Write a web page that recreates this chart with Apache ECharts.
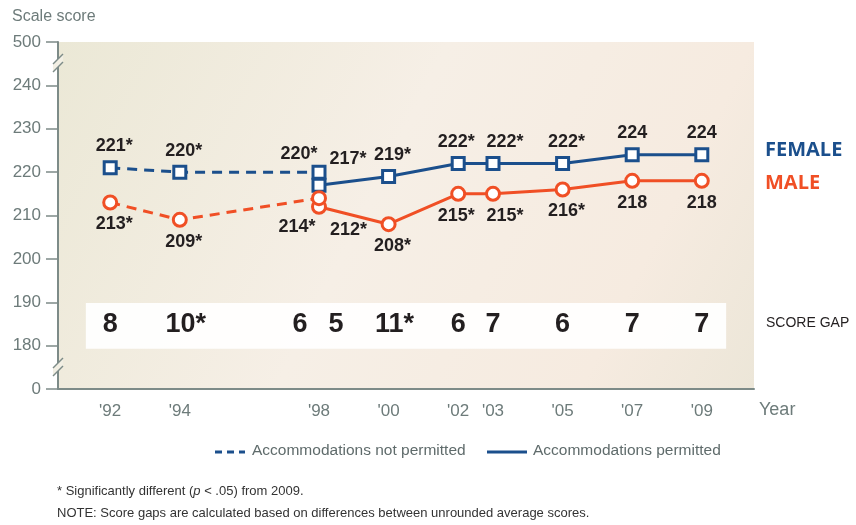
<!DOCTYPE html>
<html>
<head>
<meta charset="utf-8">
<script src="https://cdn.jsdelivr.net/npm/echarts@6/dist/echarts.min.js"></script>
<style>
html,body{margin:0;padding:0;background:#fff;}
#c{width:856px;height:525px;}
</style>
</head>
<body>
<div id="c"></div>
<script>
// ---- data ----
const femaleNotPermittedYears = [1992, 1994, 1998];
const femaleNotPermitted = [221, 220, 220];
const femaleNotPermittedSig = [true, true, true];
const femalePermittedYears = [1998, 2000, 2002, 2003, 2005, 2007, 2009];
const femalePermitted = [217, 219, 222, 222, 222, 224, 224];
const femalePermittedSig = [true, true, true, true, true, false, false];
const maleNotPermittedYears = [1992, 1994, 1998];
const maleNotPermitted = [213, 209, 214];
const maleNotPermittedSig = [true, true, true];
const malePermittedYears = [1998, 2000, 2002, 2003, 2005, 2007, 2009];
const malePermitted = [212, 208, 215, 215, 216, 218, 218];
const malePermittedSig = [true, true, true, true, true, false, false];
const gapYears = [1992, 1994, 1998, 1998, 2000, 2002, 2003, 2005, 2007, 2009];
const gapValues = ['8', '10*', '6', '5', '11*', '6', '7', '6', '7', '7'];
const gapAccommodations = [false, false, false, true, true, true, true, true, true, true];
const xTickYears = [1992, 1994, 1998, 2000, 2002, 2003, 2005, 2007, 2009];
const yTickLabels = {170: '0', 180: '180', 190: '190', 200: '200', 210: '210', 220: '220', 230: '230', 240: '240', 250: '500'};

const BLUE = '#1b4f8c';
const ORANGE = '#f04f25';
const TXT = '#231f20';
const AXIS = '#7d8b88';
const LBL = '#6d7b7a';
const SANS = '"Liberation Sans", Arial, sans-serif';

const chart = echarts.init(document.getElementById('c'), null, {renderer: 'canvas'});

function pts(years, vals, sig, pos, opts) {
  return years.map((y, i) => {
    const s = sig[i];
    const o = (opts && opts[i]) || {};
    let dx = s ? 4 : 0;
    if (y === 2002) dx = -2;
    if (y === 2003) dx = 12;
    return {
      value: [y, vals[i]],
      label: Object.assign({
        show: true,
        position: pos,
        distance: 5,
        formatter: vals[i] + (s ? '*' : ''),
        offset: [dx, 0]
      }, o)
    };
  });
}

const labelBase = {color: TXT, fontFamily: SANS, fontWeight: 'bold', fontSize: 18};

const series = [
  {
    name: 'Gap box', type: 'line', z: 1, data: [], silent: true,
    markArea: {
      silent: true,
      itemStyle: {color: '#ffffff', opacity: 0.93},
      data: [[{coord: [1991.3, 189.8]}, {coord: [2009.7, 179.3]}]]
    }
  },
  {
    name: 'Female permitted', type: 'line', z: 3,
    data: pts(femalePermittedYears, femalePermitted, femalePermittedSig, 'top', {0: {position: 'right', distance: 3, offset: [0, -26]}}),
    symbol: 'rect', symbolSize: 12,
    lineStyle: {color: BLUE, width: 3},
    itemStyle: {color: '#fff', borderColor: BLUE, borderWidth: 3},
    label: labelBase
  },
  {
    name: 'Male permitted', type: 'line', z: 3,
    data: pts(malePermittedYears, malePermitted, malePermittedSig, 'bottom', {0: {position: 'right', distance: 3, offset: [0, 23]}}),
    symbol: 'circle', symbolSize: 13,
    lineStyle: {color: ORANGE, width: 3},
    itemStyle: {color: '#fff', borderColor: ORANGE, borderWidth: 3},
    label: labelBase
  },
  {
    name: 'Female not permitted', type: 'line', z: 4,
    data: pts(femaleNotPermittedYears, femaleNotPermitted, femaleNotPermittedSig, 'top', {2: {position: 'top', distance: 2, offset: [-20, 0]}}),
    symbol: 'rect', symbolSize: 12,
    lineStyle: {color: BLUE, width: 3, type: [10, 7]},
    itemStyle: {color: '#fff', borderColor: BLUE, borderWidth: 3},
    label: labelBase
  },
  {
    name: 'Male not permitted', type: 'line', z: 4,
    data: pts(maleNotPermittedYears, maleNotPermitted, maleNotPermittedSig, 'bottom', {2: {position: 'bottom', distance: 5, offset: [-22, 7]}}),
    symbol: 'circle', symbolSize: 13,
    lineStyle: {color: ORANGE, width: 3, type: [10, 7]},
    itemStyle: {color: '#fff', borderColor: ORANGE, borderWidth: 3},
    label: labelBase
  },
  {
    name: 'Score gap', type: 'scatter', z: 5,
    symbolSize: 1,
    itemStyle: {color: 'rgba(0,0,0,0)', opacity: 1},
    data: gapYears.map((y, i) => {
      let dx = gapValues[i].indexOf('*') >= 0 ? 6 : 0;
      if (y === 1998) dx = gapAccommodations[i] ? 17 : -19;
      return {value: [y, 185], label: {offset: [dx, 1]}, name: gapValues[i]};
    }),
    label: {show: true, position: 'inside', formatter: p => p.name, color: TXT, opacity: 1, fontFamily: SANS, fontWeight: 'bold', fontSize: 27}
  }
];

const option = {
  animation: false,
  backgroundColor: '#ffffff',
  grid: {
    left: 58, right: 102, top: 42, bottom: 136,
    show: true, borderWidth: 0,
    backgroundColor: {
      type: 'linear', x: 0, y: 0, x2: 1, y2: 1,
      colorStops: [
        {offset: 0, color: '#ebe8d6'},
        {offset: 0.45, color: '#f6efe6'},
        {offset: 0.8, color: '#f6ebe0'},
        {offset: 1, color: '#ece6d8'}
      ]
    }
  },
  xAxis: {
    type: 'value', min: 1990.5, max: 2010.5,
    splitLine: {show: false},
    axisLine: {show: true, lineStyle: {color: AXIS, width: 2}},
    axisTick: {show: false},
    axisLabel: {
      customValues: xTickYears,
      formatter: v => "'" + String(v).slice(2),
      color: LBL, fontFamily: SANS, fontSize: 17, margin: 14
    }
  },
  yAxis: {
    type: 'value', min: 170, max: 250, interval: 10,
    splitLine: {show: false},
    axisLine: {show: true, lineStyle: {color: AXIS, width: 2}},
    axisTick: {show: true, inside: false, length: 12, lineStyle: {color: AXIS, width: 1.5}},
    axisLabel: {
      formatter: v => yTickLabels[v] !== undefined ? yTickLabels[v] : '',
      color: LBL, fontFamily: SANS, fontSize: 17, margin: 17
    }
  },
  series: series,
  graphic: [
    {type: 'text', left: 12, top: 9, style: {text: 'Scale score', fill: LBL, font: '16px ' + SANS}},
    {type: 'text', left: 759, top: 401, style: {text: 'Year', fill: LBL, font: '18px ' + SANS}},
    {type: 'text', left: 765, top: 140, style: {text: 'FEMALE', fill: BLUE, font: 'bold 20px "Open Sans",sans-serif'}},
    {type: 'text', left: 765, top: 173, style: {text: 'MALE', fill: ORANGE, font: 'bold 20px "Open Sans",sans-serif'}},
    {type: 'text', left: 766, top: 316, style: {text: 'SCORE GAP', fill: TXT, font: '14px ' + SANS}},
    // axis breaks
    {type: 'polygon', z: 100, shape: {points: [[53, 64], [63, 54], [63, 62], [53, 72]]}, style: {fill: '#f2efe4'}},
    {type: 'line', z: 101, shape: {x1: 53, y1: 64, x2: 63, y2: 54}, style: {stroke: AXIS, lineWidth: 1.5}},
    {type: 'line', z: 101, shape: {x1: 53, y1: 72, x2: 63, y2: 62}, style: {stroke: AXIS, lineWidth: 1.5}},
    {type: 'polygon', z: 100, shape: {points: [[53, 368], [63, 358], [63, 366], [53, 376]]}, style: {fill: '#f2efe4'}},
    {type: 'line', z: 101, shape: {x1: 53, y1: 368, x2: 63, y2: 358}, style: {stroke: AXIS, lineWidth: 1.5}},
    {type: 'line', z: 101, shape: {x1: 53, y1: 376, x2: 63, y2: 366}, style: {stroke: AXIS, lineWidth: 1.5}},
    // legend
    {type: 'line', shape: {x1: 215, y1: 452, x2: 245, y2: 452}, style: {stroke: BLUE, lineWidth: 3, lineDash: [7, 5]}},
    {type: 'text', left: 252, top: 443, style: {text: 'Accommodations not permitted', fill: '#5f6b6b', font: '15.5px ' + SANS}},
    {type: 'line', shape: {x1: 487, y1: 452, x2: 527, y2: 452}, style: {stroke: BLUE, lineWidth: 3}},
    {type: 'text', left: 533, top: 443, style: {text: 'Accommodations permitted', fill: '#5f6b6b', font: '15.5px ' + SANS}},
    // notes
    {type: 'text', left: 57, top: 485, style: {
      text: '{n|* Significantly different (}{i|p}{n| < .05) from 2009.}',
      rich: {n: {fill: '#333', font: '13px ' + SANS}, i: {fill: '#333', font: 'italic 13px ' + SANS}}
    }},
    {type: 'text', left: 57, top: 507, style: {text: 'NOTE: Score gaps are calculated based on differences between unrounded average scores.', fill: '#333', font: '13px ' + SANS}}
  ]
};
chart.setOption(option);
</script>
</body>
</html>
